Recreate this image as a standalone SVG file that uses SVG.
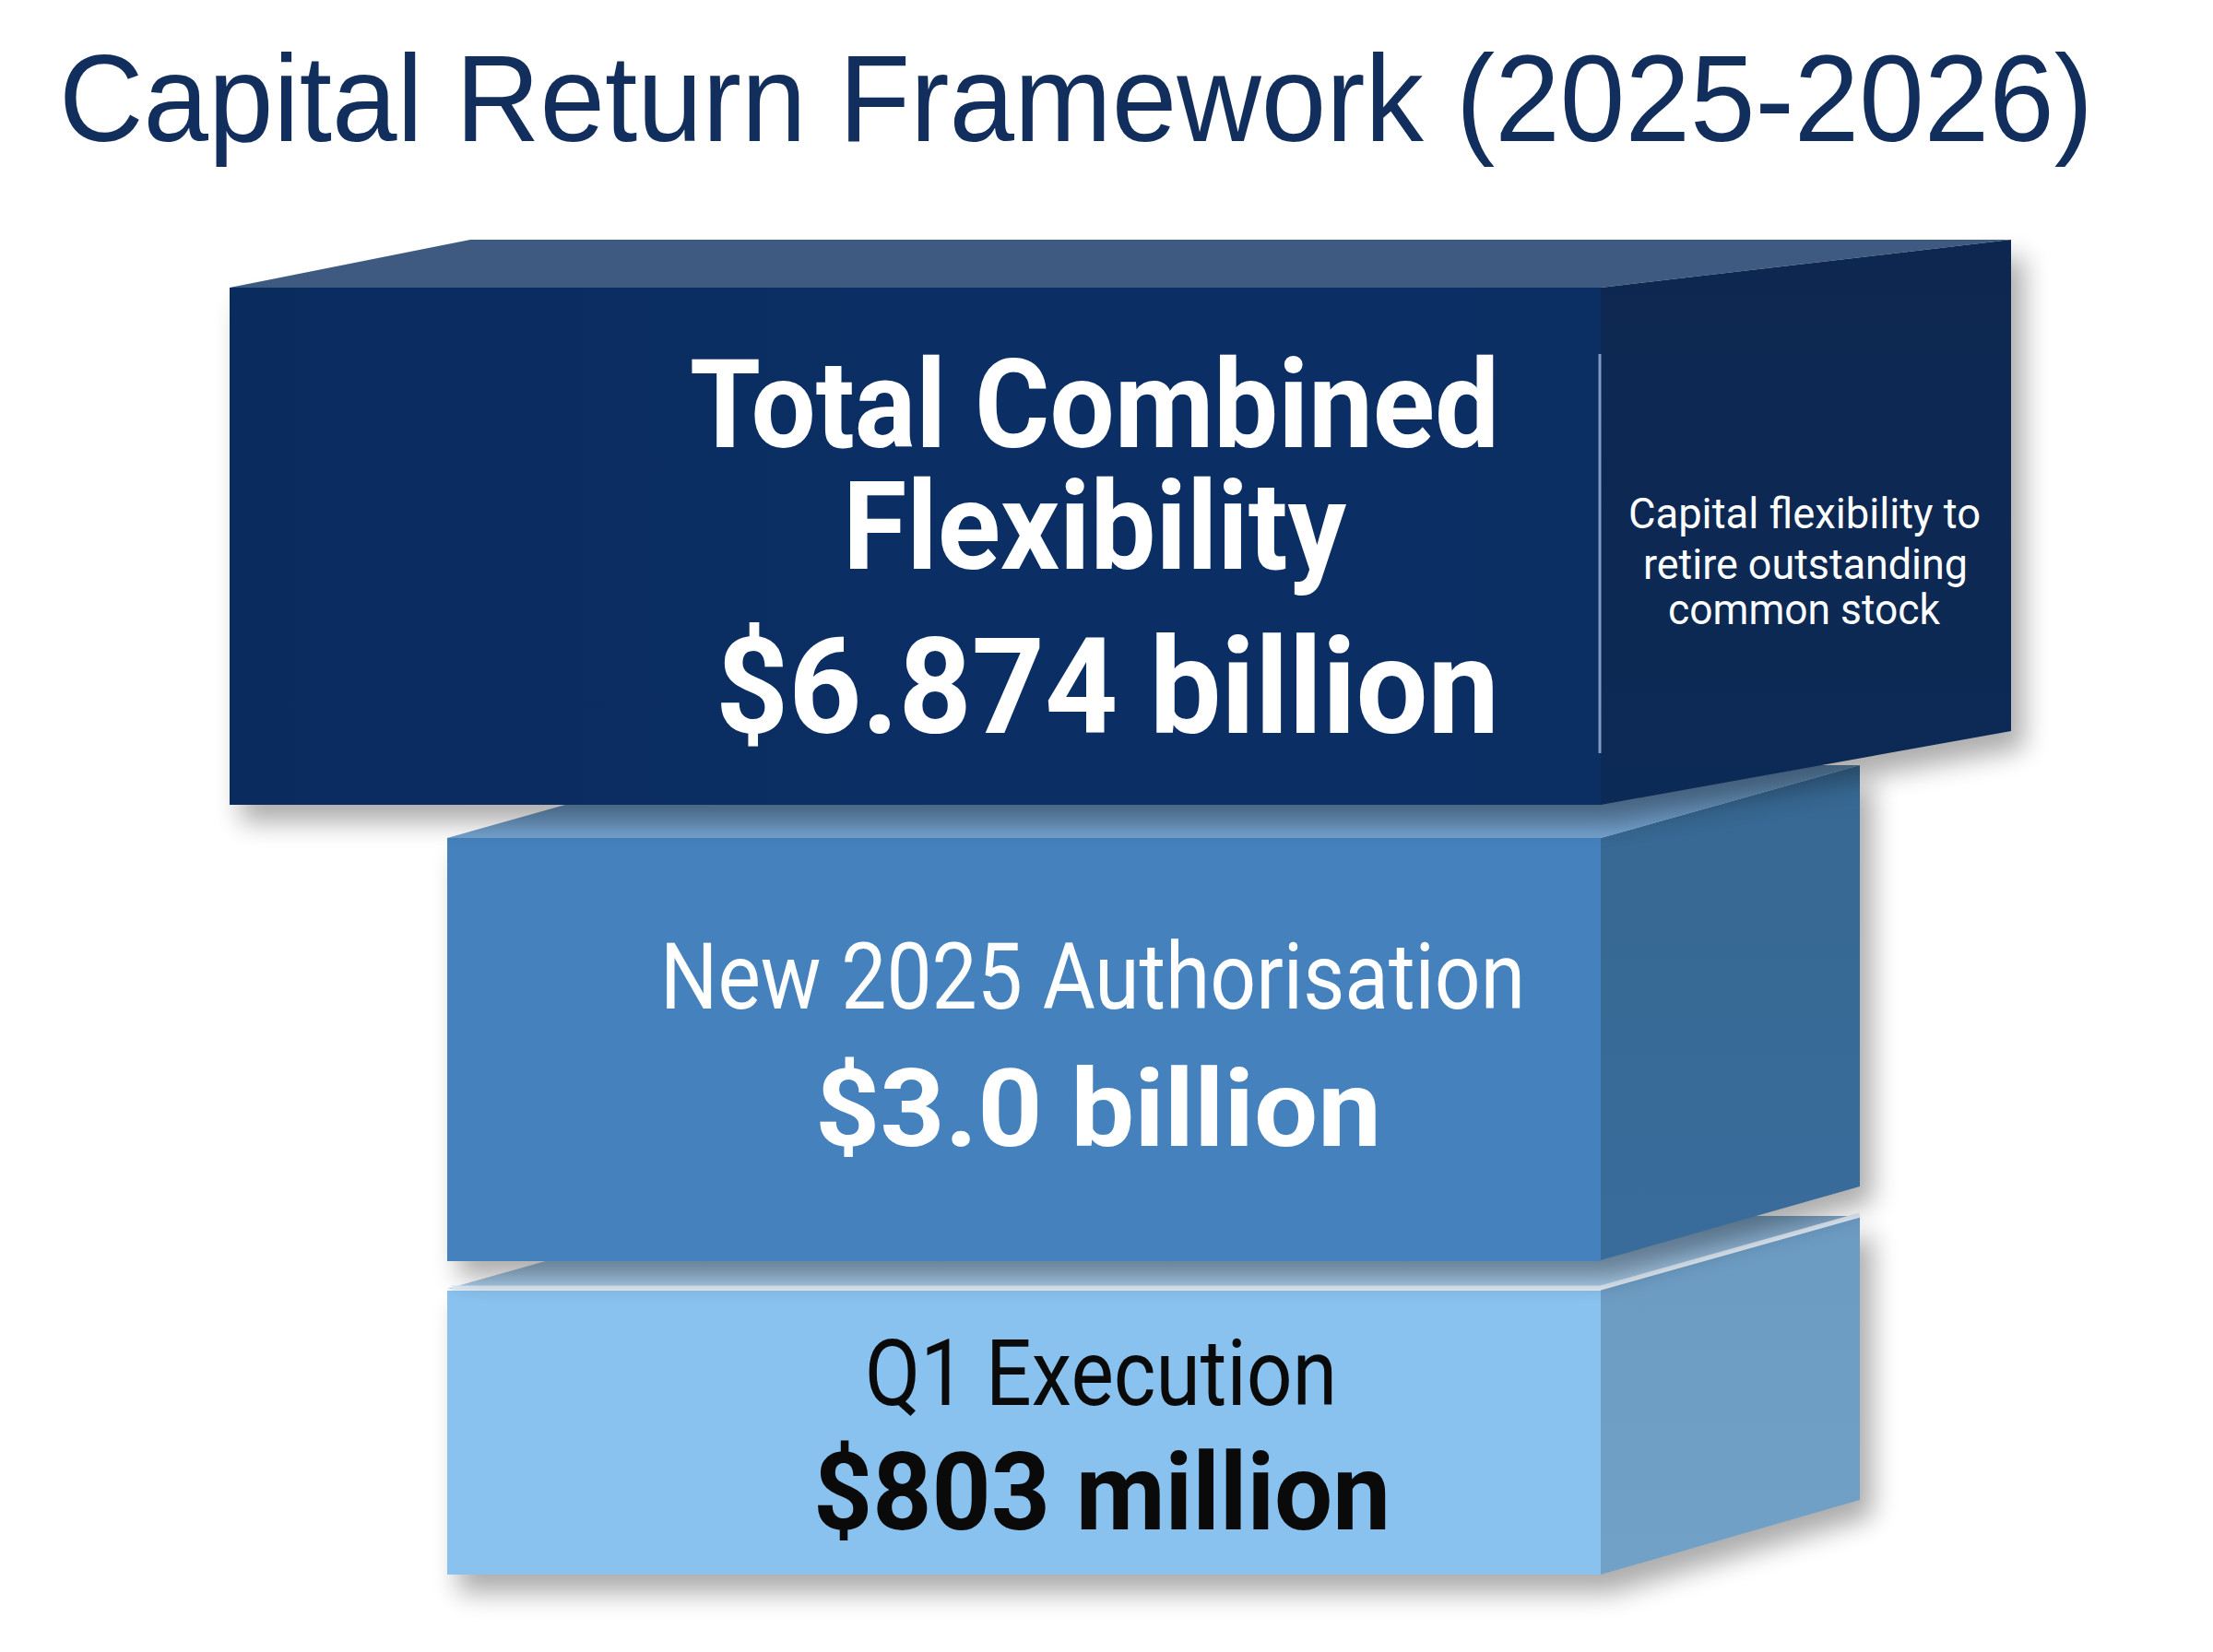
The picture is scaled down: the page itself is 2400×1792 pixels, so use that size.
<svg xmlns="http://www.w3.org/2000/svg" width="2400" height="1792" viewBox="0 0 2400 1792">
  <defs>
    <filter id="soft" x="-20%" y="-20%" width="140%" height="150%">
      <feGaussianBlur stdDeviation="14"/>
    </filter>
    <linearGradient id="topFront" x1="0" y1="0" x2="1" y2="0">
      <stop offset="0" stop-color="#0a2b5e"/>
      <stop offset="0.6" stop-color="#0b2f65"/>
      <stop offset="1" stop-color="#0b2e63"/>
    </linearGradient>
    <linearGradient id="topSide" x1="0" y1="0" x2="0" y2="1">
      <stop offset="0" stop-color="#0d2750"/>
      <stop offset="1" stop-color="#0c2a56"/>
    </linearGradient>
    <linearGradient id="midTop" x1="0" y1="0" x2="0" y2="1">
      <stop offset="0" stop-color="#5d85ad"/>
      <stop offset="1" stop-color="#74a2cf"/>
    </linearGradient>
    <linearGradient id="botTop" x1="0" y1="0" x2="0" y2="1">
      <stop offset="0" stop-color="#7ea6c9"/>
      <stop offset="1" stop-color="#a9cbe8"/>
    </linearGradient>
    <linearGradient id="midSide" x1="0" y1="0" x2="0" y2="1">
      <stop offset="0" stop-color="#376892"/>
      <stop offset="1" stop-color="#396c9b"/>
    </linearGradient>
    <linearGradient id="botSide" x1="0" y1="0" x2="0" y2="1">
      <stop offset="0" stop-color="#6c9bc2"/>
      <stop offset="1" stop-color="#72a1c8"/>
    </linearGradient>
  </defs>
  <style>
    .title { font-family: "Liberation Sans", Arial, sans-serif; font-size: 133px; fill: #112e5d; }
    .big { font-family: Roboto, "Liberation Sans", sans-serif; font-weight: 700; }
    .reg { font-family: Roboto, "Liberation Sans", sans-serif; font-weight: 400; }
    .white { fill: #ffffff; }
    .dark { fill: #0a0a0a; }
    .shadow { fill: #000000; opacity: 0.32; filter: url(#soft); }
  </style>

  <rect x="0" y="0" width="2400" height="1792" fill="#ffffff"/>

  <g id="title">
    <text class="title" x="64" y="153" textLength="2206" lengthAdjust="spacingAndGlyphs">Capital Return Framework (2025-2026)</text>
  </g>

  <g id="connectors"/>

  <g id="block-bottom">
    <polygon class="shadow" points="497,1416 1748,1416 2031,1338 2031,1645 1748,1728 497,1728"/>
    <polygon points="485,1398 1736,1398 2017,1319 766,1319" fill="url(#botTop)"/>
    <rect x="485" y="1400" width="1251" height="308" fill="#89c2ee"/>
    <polygon points="1736,1398 2017,1319 2017,1627 1736,1708" fill="url(#botSide)"/>
    <polyline points="490,1397 1736,1397 2017,1318" fill="none" stroke="#deeaf5" stroke-width="5"/>
    <text class="reg dark" x="938" y="1524" font-size="100" textLength="512" lengthAdjust="spacingAndGlyphs">Q1 Execution</text>
    <text class="big dark" x="882" y="1659" font-size="117" textLength="626" lengthAdjust="spacingAndGlyphs">$803 million</text>
  </g>

  <g id="block-middle">
    <polygon class="shadow" points="497,926 1748,926 2031,848 2031,1304 1748,1386 497,1386"/>
    <polygon points="485,909 1736,909 2017,830 766,830" fill="url(#midTop)"/>
    <rect x="485" y="909" width="1251" height="459" fill="#4582bd"/>
    <polygon points="1736,909 2017,830 2017,1287 1736,1367" fill="url(#midSide)"/>
    <text class="reg white" x="716" y="1094" font-size="100" textLength="938" lengthAdjust="spacingAndGlyphs">New 2025 Authorisation</text>
    <text class="big white" x="884" y="1243" font-size="116" textLength="614" lengthAdjust="spacingAndGlyphs">$3.0 billion</text>
  </g>

  <g id="block-top">
    <polygon class="shadow" points="261,330 1748,330 2195,278 2195,812 1748,892 261,892"/>
    <polygon points="249,312 510,260 2181,260 1736,312" fill="#3e5a80"/>
    <rect x="249" y="312" width="1487" height="561" fill="url(#topFront)"/>
    <polygon points="1736,312 2181,260 2181,793 1736,873" fill="url(#topSide)"/>
    <line x1="1735" y1="384" x2="1735" y2="817" stroke="#7f9cc2" stroke-width="3"/>
    <text class="big white" font-size="134"><tspan x="748" y="485" textLength="878" lengthAdjust="spacingAndGlyphs">Total Combined</tspan><tspan x="914" y="617" textLength="546" lengthAdjust="spacingAndGlyphs">Flexibility</tspan></text>
    <text class="big white" x="776" y="795" font-size="145" textLength="850" lengthAdjust="spacingAndGlyphs">$6.874 billion</text>
    <text class="reg white" font-size="46"><tspan x="1766" y="573" textLength="382" lengthAdjust="spacingAndGlyphs">Capital flexibility to</tspan><tspan x="1782" y="628" textLength="352" lengthAdjust="spacingAndGlyphs">retire outstanding</tspan><tspan x="1809" y="677" textLength="295" lengthAdjust="spacingAndGlyphs">common stock</tspan></text>
  </g>
</svg>
